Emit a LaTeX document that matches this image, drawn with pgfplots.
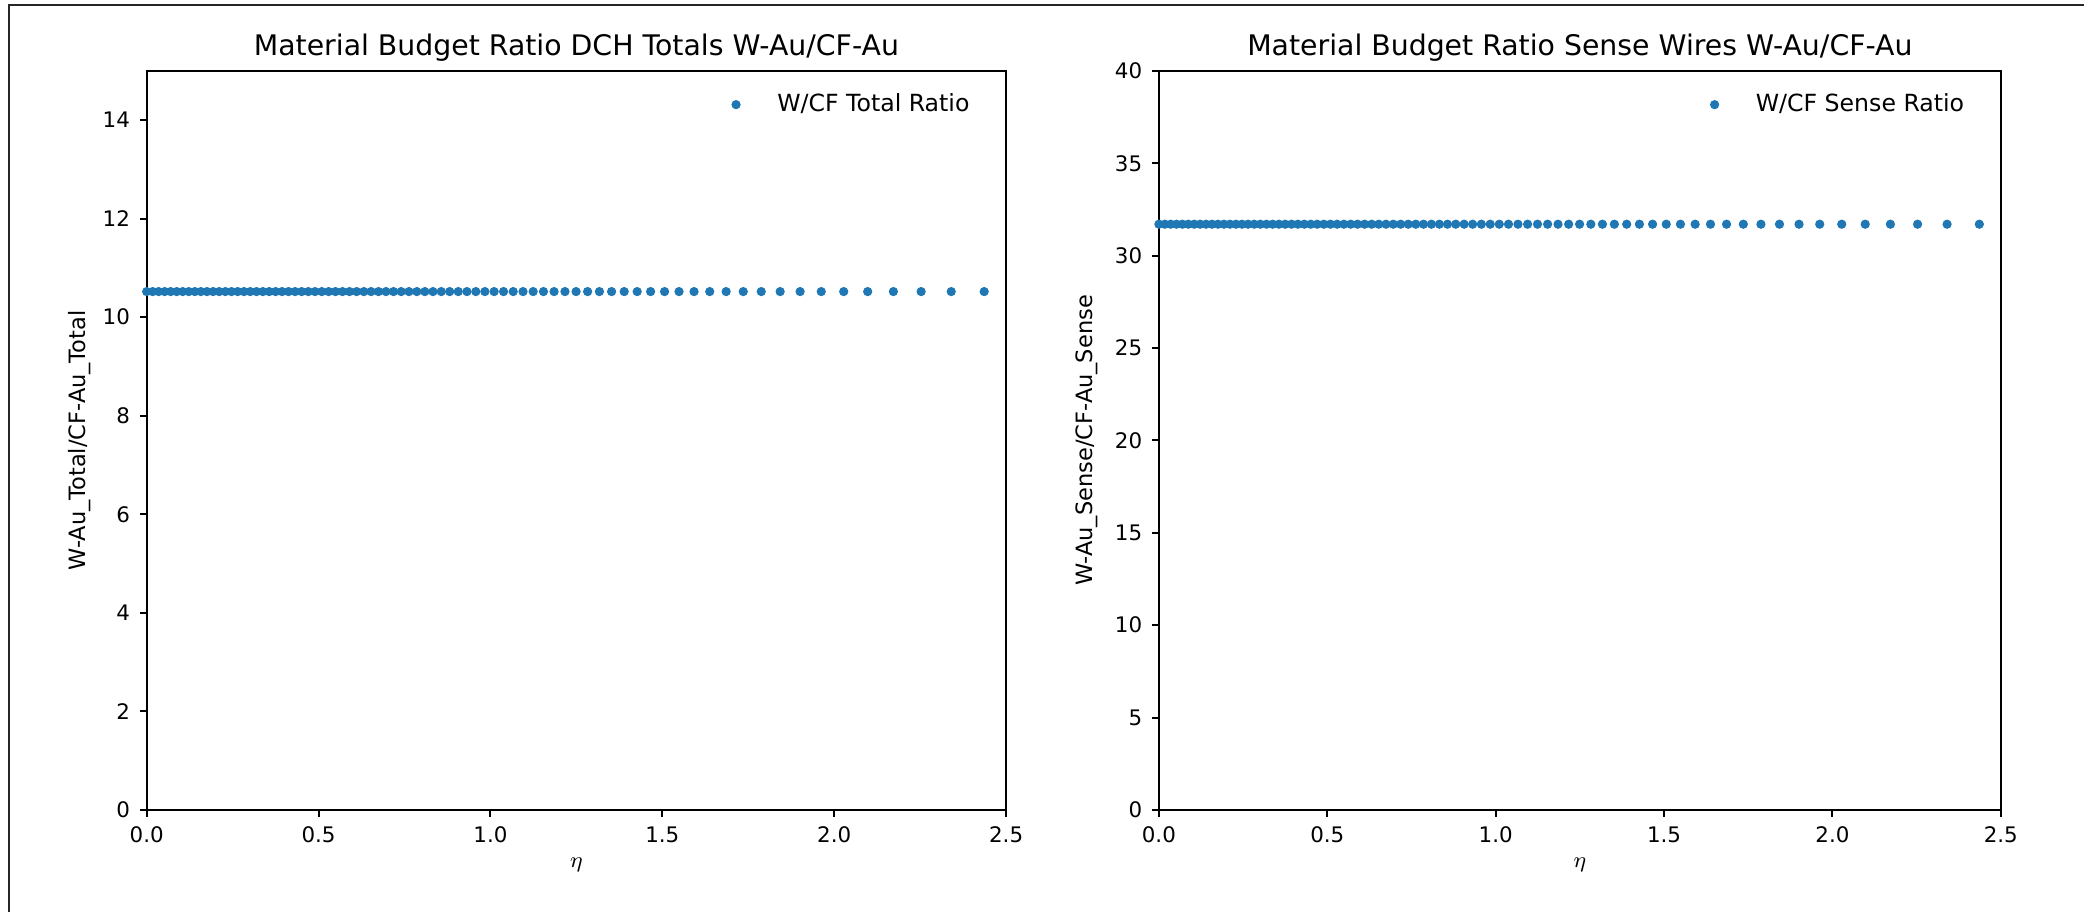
\documentclass[border=0pt]{standalone}
\usepackage{pgfplots}
\pgfplotsset{compat=1.18}
\usepackage{pgfplotstable}
\usepackage{fontspec}
\setmainfont{DejaVu Sans}
\definecolor{c0}{HTML}{1F77B4}
\pgfplotstableread{
eta total sense
0.0000 10.52 31.70
0.0175 10.52 31.70
0.0349 10.52 31.70
0.0524 10.52 31.70
0.0699 10.52 31.70
0.0874 10.52 31.70
0.1049 10.52 31.70
0.1225 10.52 31.70
0.1401 10.52 31.70
0.1577 10.52 31.70
0.1754 10.52 31.70
0.1932 10.52 31.70
0.2110 10.52 31.70
0.2289 10.52 31.70
0.2468 10.52 31.70
0.2648 10.52 31.70
0.2830 10.52 31.70
0.3012 10.52 31.70
0.3195 10.52 31.70
0.3379 10.52 31.70
0.3564 10.52 31.70
0.3750 10.52 31.70
0.3938 10.52 31.70
0.4127 10.52 31.70
0.4317 10.52 31.70
0.4509 10.52 31.70
0.4702 10.52 31.70
0.4897 10.52 31.70
0.5094 10.52 31.70
0.5293 10.52 31.70
0.5493 10.52 31.70
0.5696 10.52 31.70
0.5900 10.52 31.70
0.6107 10.52 31.70
0.6317 10.52 31.70
0.6528 10.52 31.70
0.6743 10.52 31.70
0.6960 10.52 31.70
0.7180 10.52 31.70
0.7403 10.52 31.70
0.7629 10.52 31.70
0.7859 10.52 31.70
0.8092 10.52 31.70
0.8328 10.52 31.70
0.8569 10.52 31.70
0.8814 10.52 31.70
0.9063 10.52 31.70
0.9316 10.52 31.70
0.9575 10.52 31.70
0.9838 10.52 31.70
1.0107 10.52 31.70
1.0381 10.52 31.70
1.0662 10.52 31.70
1.0948 10.52 31.70
1.1242 10.52 31.70
1.1542 10.52 31.70
1.1851 10.52 31.70
1.2167 10.52 31.70
1.2492 10.52 31.70
1.2826 10.52 31.70
1.3170 10.52 31.70
1.3524 10.52 31.70
1.3890 10.52 31.70
1.4268 10.52 31.70
1.4659 10.52 31.70
1.5065 10.52 31.70
1.5486 10.52 31.70
1.5923 10.52 31.70
1.6379 10.52 31.70
1.6856 10.52 31.70
1.7354 10.52 31.70
1.7877 10.52 31.70
1.8427 10.52 31.70
1.9008 10.52 31.70
1.9623 10.52 31.70
2.0276 10.52 31.70
2.0973 10.52 31.70
2.1721 10.52 31.70
2.2528 10.52 31.70
2.3404 10.52 31.70
2.4362 10.52 31.70
}\datatable

\pgfplotsset{
  mystyle/.style={
    scale only axis,
    height=266.1pt,
    xmin=0, xmax=2.5,
    xtick={0,0.5,1,1.5,2,2.5},
    xticklabels={0.0,0.5,1.0,1.5,2.0,2.5},
    axis line style={line width=0.7pt, black},
    tick style={line width=0.7pt, black},
    major tick length=2.5pt,
    tick align=outside,
    xtick pos=bottom, ytick pos=left,
    ticklabel style={font=\fontsize{7.7}{9}\selectfont, /pgf/number format/assume math mode=true},
    label style={font=\fontsize{8.1}{9.5}\selectfont},
    title style={font=\fontsize{10.2}{12}\selectfont, at={(axis description cs:0.5,1)}, anchor=center, yshift=2.5pt},
    xlabel={$\eta$},
    xlabel style={at={(axis description cs:0.5,-0.0744)}, anchor=center},
    legend style={draw=none, fill=none, at={(1,1)}, anchor=north east,
      font=\fontsize{8.5}{10}\selectfont, xshift=-8pt, yshift=-4pt,
      /tikz/every odd column/.append style={column sep=11.2pt}},
    legend image code/.code={\fill (0pt,0pt) circle (1.45pt);},
    legend cell align=left,
  }
}

\begin{document}
\begin{tikzpicture}
\path[use as bounding box] (0,0) rectangle (750.24pt,328.32pt);
\draw[line width=0.7pt, black!85] (3.24pt,0) -- (3.24pt,326.5pt) -- (750.24pt,326.5pt);

\begin{axis}[mystyle, at={(52.8pt,36.72pt)}, anchor=south west, width=309.4pt,
  ymin=0, ymax=15, ytick={0,2,4,6,8,10,12,14},
  title={Material Budget Ratio DCH Totals W-Au/CF-Au},
  ylabel={W-Au\_Total/CF-Au\_Total},
  ylabel style={at={(axis description cs:-0.0776,0.5)}, anchor=center},
]
\addplot[only marks, mark=*, mark size=1.45pt, color=c0, fill=c0, mark options={draw=c0, fill=c0}] table[x=eta, y=total] {\datatable};
\addlegendentry{W/CF Total Ratio}
\end{axis}

\begin{axis}[mystyle, at={(417.2pt,36.72pt)}, anchor=south west, width=303.1pt,
  ymin=0, ymax=40, ytick={0,5,10,15,20,25,30,35,40},
  title={Material Budget Ratio Sense Wires W-Au/CF-Au},
  ylabel={W-Au\_Sense/CF-Au\_Sense},
  ylabel style={at={(axis description cs:-0.0855,0.5)}, anchor=center},
]
\addplot[only marks, mark=*, mark size=1.45pt, color=c0, fill=c0, mark options={draw=c0, fill=c0}] table[x=eta, y=sense] {\datatable};
\addlegendentry{W/CF Sense Ratio}
\end{axis}
\end{tikzpicture}
\end{document}
